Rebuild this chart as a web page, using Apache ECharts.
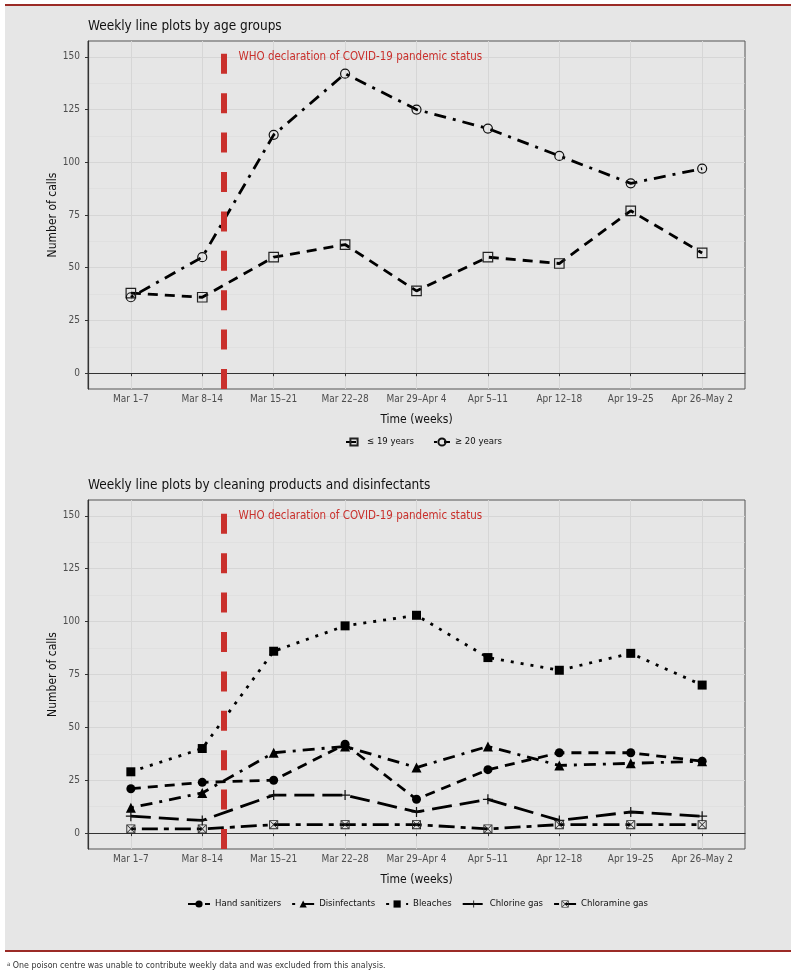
<!DOCTYPE html>
<html><head><meta charset="utf-8">
<script src="https://cdn.jsdelivr.net/npm/echarts@6/dist/echarts.min.js"></script>
<style>html,body{margin:0;padding:0;background:#fff}#c{width:798px;height:979px}</style>
</head><body><div id="c"></div>
<script>
const weeks = ['Mar 1–7','Mar 8–14','Mar 15–21','Mar 22–28','Mar 29–Apr 4','Apr 5–11','Apr 12–18','Apr 19–25','Apr 26–May 2'];
const under19 = [38,36,55,61,39,55,52,77,57];
const over20 = [36,55,113,142,125,116,103,90,97];
const handSanitizers = [21,24,25,42,16,30,38,38,34];
const disinfectants = [12,19,38,41,31,41,32,33,34];
const bleaches = [29,40,86,98,103,83,77,85,70];
const chlorineGas = [8,6,18,18,10,16,6,10,8];
const chloramineGas = [2,2,4,4,4,2,4,4,4];
const yTicks = [0,25,50,75,100,125,150];
const yMinor = [12.5,37.5,62.5,87.5,112.5,137.5];
const whoWeek = 2.3;
const whoLabelAt = 2.5;
const whoLabelY = 150;
const whoLabel = 'WHO declaration of COVID-19 pandemic status';
const title1 = 'Weekly line plots by age groups';
const title2 = 'Weekly line plots by cleaning products and disinfectants';
const footnote = 'One poison centre was unable to contribute weekly data and was excluded from this analysis.';

const FONT = "'DejaVu Sans Condensed','Liberation Sans Narrow',sans-serif";
const RED = '#c9302c';
const xPos = weeks.map((w,i)=>i+1);
const pair = arr => arr.map((v,i)=>[i+1,v]);

const plusPath = 'path://M4.4,0H5.6V4.4H10V5.6H5.6V10H4.4V5.6H0V4.4H4.4Z';
const boxXPath = 'path://M0,0H10V10H0ZM1,1V9H9V1ZM1.6,1L9,8.4L8.4,9L1,1.6ZM9,1.6L1.6,9L1,8.4L8.4,1Z';

const DASH = [10,7], DOTDASH = [3,7,12,7], DOT = [3,7], LONGDASH = [20,8], TWODASH = [5,6,16,6];

function xAxis(gi){
  return {type:'value', gridIndex:gi, min:0.4, max:9.6,
    name:'Time (weeks)', nameLocation:'middle', nameGap:25, nameMoveOverlap:false,
    nameTextStyle:{fontFamily:FONT, fontSize:12, color:'#111'},
    axisLine:{show:true, lineStyle:{color:'#333', width:1.2}},
    axisTick:{show:true, length:3, lineStyle:{color:'#333'}, customValues:xPos},
    axisLabel:{customValues:xPos, margin:5, fontFamily:FONT, fontSize:10, color:'#4d4d4d',
      formatter:v=>weeks[Math.round(v)-1]||''},
    splitLine:{show:true, lineStyle:{color:'#d6d6d6', width:1}}
  };
}
function yAxis(gi){
  return {type:'value', gridIndex:gi, min:-7.5, max:157.5,
    name:'Number of calls', nameLocation:'middle', nameGap:29, nameRotate:90, nameMoveOverlap:false,
    nameTextStyle:{fontFamily:FONT, fontSize:12, color:'#111'},
    axisLine:{show:true, lineStyle:{color:'#333', width:1.2}},
    axisTick:{show:true, length:3, lineStyle:{color:'#333'}, customValues:yTicks},
    axisLabel:{customValues:yTicks, margin:8, fontFamily:FONT, fontSize:10, color:'#4d4d4d'},
    splitLine:{show:true, lineStyle:{color:'#d6d6d6', width:1}}
  };
}
function yMinorAxis(gi){
  return {type:'value', gridIndex:gi, min:-7.5, max:157.5, position:'left',
    axisLine:{show:false}, axisTick:{show:false, customValues:yMinor},
    axisLabel:{show:false, customValues:yMinor},
    splitLine:{show:true, lineStyle:{color:'#dcdcdc', width:0.6}}
  };
}
function mk(name, data, gi, symbol, size, dash, filled, color){
  const c = color || '#000';
  return {name, type:'line', xAxisIndex:gi, yAxisIndex:gi*2, data:pair(data),
    symbol, symbolSize:size, showSymbol:true,
    lineStyle:{color:'#000', width:2.8, type:dash, cap:'butt'},
    itemStyle: filled ? {color:c, borderWidth:0} : {color:'rgba(0,0,0,0)', borderColor:c, borderWidth:1.2},
    z:3, animation:false, silent:true};
}
function who(){
  return {
    markLine:{silent:true, symbol:['none','none'], animation:false,
      lineStyle:{color:RED, width:6, type:[20,19.4], cap:'butt'}, label:{show:false},
      data:[{xAxis:whoWeek}]},
    markPoint:{silent:true, animation:false, symbol:'circle', symbolSize:1, itemStyle:{color:'rgba(0,0,0,0)'},
      label:{show:true, position:'right', distance:0, formatter:whoLabel, color:RED, fontFamily:FONT, fontSize:11.5},
      data:[{coord:[whoLabelAt, whoLabelY]}]}
  };
}

const s1 = mk('≤ 19 years', under19, 0, 'rect', 9.5, DASH, false, '#222');
const s2 = mk('≥ 20 years', over20, 0, 'circle', 9, DOTDASH, false, '#111');
Object.assign(s2, who());
const s3 = mk('Hand sanitizers', handSanitizers, 1, 'circle', 9, DASH, true);
const s4 = mk('Disinfectants', disinfectants, 1, 'triangle', 10, DOTDASH, true);
const s5 = mk('Bleaches', bleaches, 1, 'rect', 9, DOT, true);
Object.assign(s5, who());
const s6 = mk('Chlorine gas', chlorineGas, 1, plusPath, 10, LONGDASH, true, '#111');
const s7 = mk('Chloramine gas', chloramineGas, 1, boxXPath, 9, TWODASH, true, '#222');

const option = {
  backgroundColor:'#ffffff',
  animation:false,
  textStyle:{fontFamily:FONT},
  graphic:[
    {type:'rect', z:-100, shape:{x:5,y:6,width:786,height:945}, style:{fill:'#e6e6e6'}},
    {type:'rect', z:-99, shape:{x:5,y:4,width:786,height:2}, style:{fill:'#9b2b26'}},
    {type:'rect', z:-99, shape:{x:5,y:950,width:786,height:2}, style:{fill:'#9b2b26'}},
    {type:'text', x:7, y:961, style:{text:'{s|a} '+footnote, fill:'#333', font:"8.8px "+FONT,
      rich:{s:{fontSize:6, verticalAlign:'top', fill:'#333', fontFamily:FONT}}}}
  ],
  title:[
    {text:title1, left:83, top:14, textStyle:{fontFamily:FONT, fontSize:13.5, fontWeight:'normal', color:'#111'}},
    {text:title2, left:83, top:473, textStyle:{fontFamily:FONT, fontSize:13.5, fontWeight:'normal', color:'#111'}}
  ],
  grid:[
    {left:88, top:41, width:657, height:348, show:true, backgroundColor:'#e6e6e6', borderColor:'#555', borderWidth:1},
    {left:88, top:500, width:657, height:349, show:true, backgroundColor:'#e6e6e6', borderColor:'#555', borderWidth:1}
  ],
  xAxis:[xAxis(0), xAxis(1)],
  yAxis:[yAxis(0), yMinorAxis(0), yAxis(1), yMinorAxis(1)],
  legend:[
    {data:['≤ 19 years','≥ 20 years'], left:345, top:437, itemWidth:16, itemHeight:9, itemGap:19, padding:0,
      textStyle:{fontFamily:FONT, fontSize:9.5, color:'#111'}},
    {data:['Hand sanitizers','Disinfectants','Bleaches','Chlorine gas','Chloramine gas'], left:187, top:899, padding:0,
      itemWidth:22, itemHeight:9, itemGap:10, textStyle:{fontFamily:FONT, fontSize:9.5, color:'#111'}}
  ],
  series:[s1,s2,s3,s4,s5,s6,s7]
};
const chart = echarts.init(document.getElementById('c'), null, {renderer:'canvas'});
chart.setOption(option);
</script></body></html>
